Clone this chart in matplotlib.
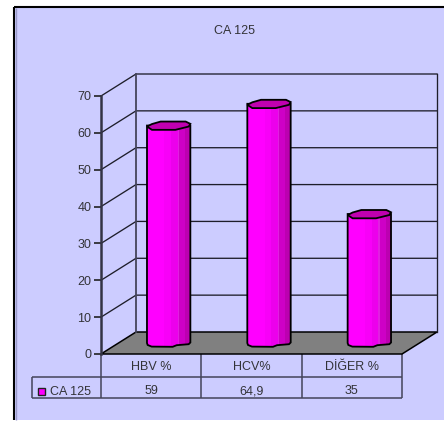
#!/usr/bin/env python3

import matplotlib
matplotlib.use('Agg')
import matplotlib.pyplot as plt
from matplotlib.patches import Polygon, Rectangle
from matplotlib.transforms import blended_transform_factory

plt.rcParams['font.family'] = ['Liberation Sans', 'DejaVu Sans']

W, H = 444, 421
BG = '#CCCCFF'
TXT = '#333338'
FS = 9

categories = ['HBV %', 'HCV%', 'DİĞER %']
values = [59, 64.9, 35]
value_labels = ['59', '64,9', '35']
series_name = 'CA 125'
yticks = [0, 10, 20, 30, 40, 50, 60, 70]

# depth of the fake 3d box, in data units
DX = 35 / 100.33
DY = 22 / 3.686
BAR_RX = 0.216
PX_X = 100.33
PX_Y = 3.686

# outline of the bar caps, in pixels from the bar centre
TOP_CAP = [(-21.7, 1), (-16.7, -1.5), (-8, -4), (17, -4), (21.7, -1.7), (20, 1), (6.7, 4.3), (-16.7, 4.3)]
BOTTOM_CAP = [(-21.7, 0), (-21, 2), (-17, 3.6), (4, 3.8), (8, 2.2), (20, 1.2), (21.7, -0.5)]
SHADES = [(0, .4, '#FF00FF'), (.4, .55, '#F800F8'), (.55, .71, '#EC00EC'),
          (.71, .74, '#E020E0'), (.74, .88, '#CE00C6'), (.88, 1, '#BC00B0')]

fig = plt.figure(figsize=(W / 100, H / 100), dpi=100, facecolor='white')

# pixel canvas for the frame and the table
px = fig.add_axes([0, 0, 1, 1], zorder=0)
px.set_xlim(0, W)
px.set_ylim(H, 0)
px.axis('off')
px.add_patch(Rectangle((14, 7), W - 14, 413, fc=BG, ec='none'))
px.plot([15.5, 15.5], [8, 420], c='#9a9ac8', lw=1, solid_capstyle='butt')
px.plot([14, 14], [7, 420], c='black', lw=1.5, solid_capstyle='butt')
px.plot([14, W], [7, 7], c='black', lw=1.5, solid_capstyle='butt')
px.text(234.5, 30.5, series_name, ha='center', va='center', fontsize=FS, color=TXT)

# data axes sit on the front plane of the box
ax = fig.add_axes([101 / W, 1 - 354 / H, 301 / W, 258 / H], zorder=1)
ax.set_xlim(0, 3)
ax.set_ylim(0, 70)
ax.patch.set_alpha(0)
for s in ax.spines.values():
    s.set_visible(False)
ax.set_xticks([])
ax.set_yticks(yticks)
ax.tick_params(axis='y', length=5, width=1.2, color='#222222', labelsize=FS, labelcolor=TXT, pad=2)

# floor
ax.add_patch(Polygon([(0, 0), (3, 0), (3 + DX, DY), (DX, DY)], fc='#808080', ec='black', lw=1.1, clip_on=False, zorder=1))

# walls and gridlines
for t in yticks[1:]:
    ax.plot([0, DX, 3 + DX], [t, t + DY, t + DY], c='#1e1e2a', lw=.95, clip_on=False, zorder=1)
ax.plot([DX, DX], [DY, 70 + DY], c='#44445a', lw=1.3, clip_on=False, zorder=1)
ax.plot([3 + DX, 3 + DX], [DY, 70 + DY], c='#1e1e2a', lw=.95, clip_on=False, zorder=1)
ax.plot([0, 0], [0, 70], c='#333344', lw=1.8, clip_on=False, zorder=2)

# bars
for i, v in enumerate(values):
    cx = i + .5 + DX / 2
    base = DY / 2
    top = v + DY / 2
    side = [(cx + a / PX_X, base - b / PX_Y) for a, b in BOTTOM_CAP]
    body = Polygon([(cx - BAR_RX, top)] + side + [(cx + BAR_RX, top)], fc='none', ec='black', lw=1.3,
                   clip_on=False, zorder=4)
    ax.add_patch(body)
    for f0, f1, col in SHADES:
        strip = Rectangle((cx - BAR_RX + 2 * BAR_RX * f0, 0), 2 * BAR_RX * (f1 - f0), top + 2, fc=col, ec='none', zorder=3)
        ax.add_patch(strip)
        strip.set_clip_path(body)
    ax.add_patch(Polygon([(cx + a / PX_X, top - b / PX_Y) for a, b in TOP_CAP], fc='#C000B0', ec='black', lw=1.3,
                         clip_on=False, zorder=5))

# data table under the chart
line = dict(c='#44445a', lw=1.1, solid_capstyle='butt')
bt = blended_transform_factory(ax.transData, px.transData)
px.plot([32, 402], [398, 398], **line)
px.plot([32, 402], [376.7, 376.7], **line)
px.plot([32, 32], [376.7, 398], **line)
for k in range(4):
    px.plot([k, k], [354, 398], transform=bt, **line)
for i, (c, lab) in enumerate(zip(categories, value_labels)):
    px.text(i + .5, 367, c, transform=bt, ha='center', va='center', fontsize=FS, color=TXT)
    px.text(i + .5, 391, lab, transform=bt, ha='center', va='center', fontsize=FS, color=TXT)
px.add_patch(Rectangle((38, 387.5), 7, 7, fc='#FF00FF', ec='#222222', lw=1))
px.text(50, 392, series_name, ha='left', va='center', fontsize=FS, color=TXT)

fig.savefig('out.png', dpi=100)
